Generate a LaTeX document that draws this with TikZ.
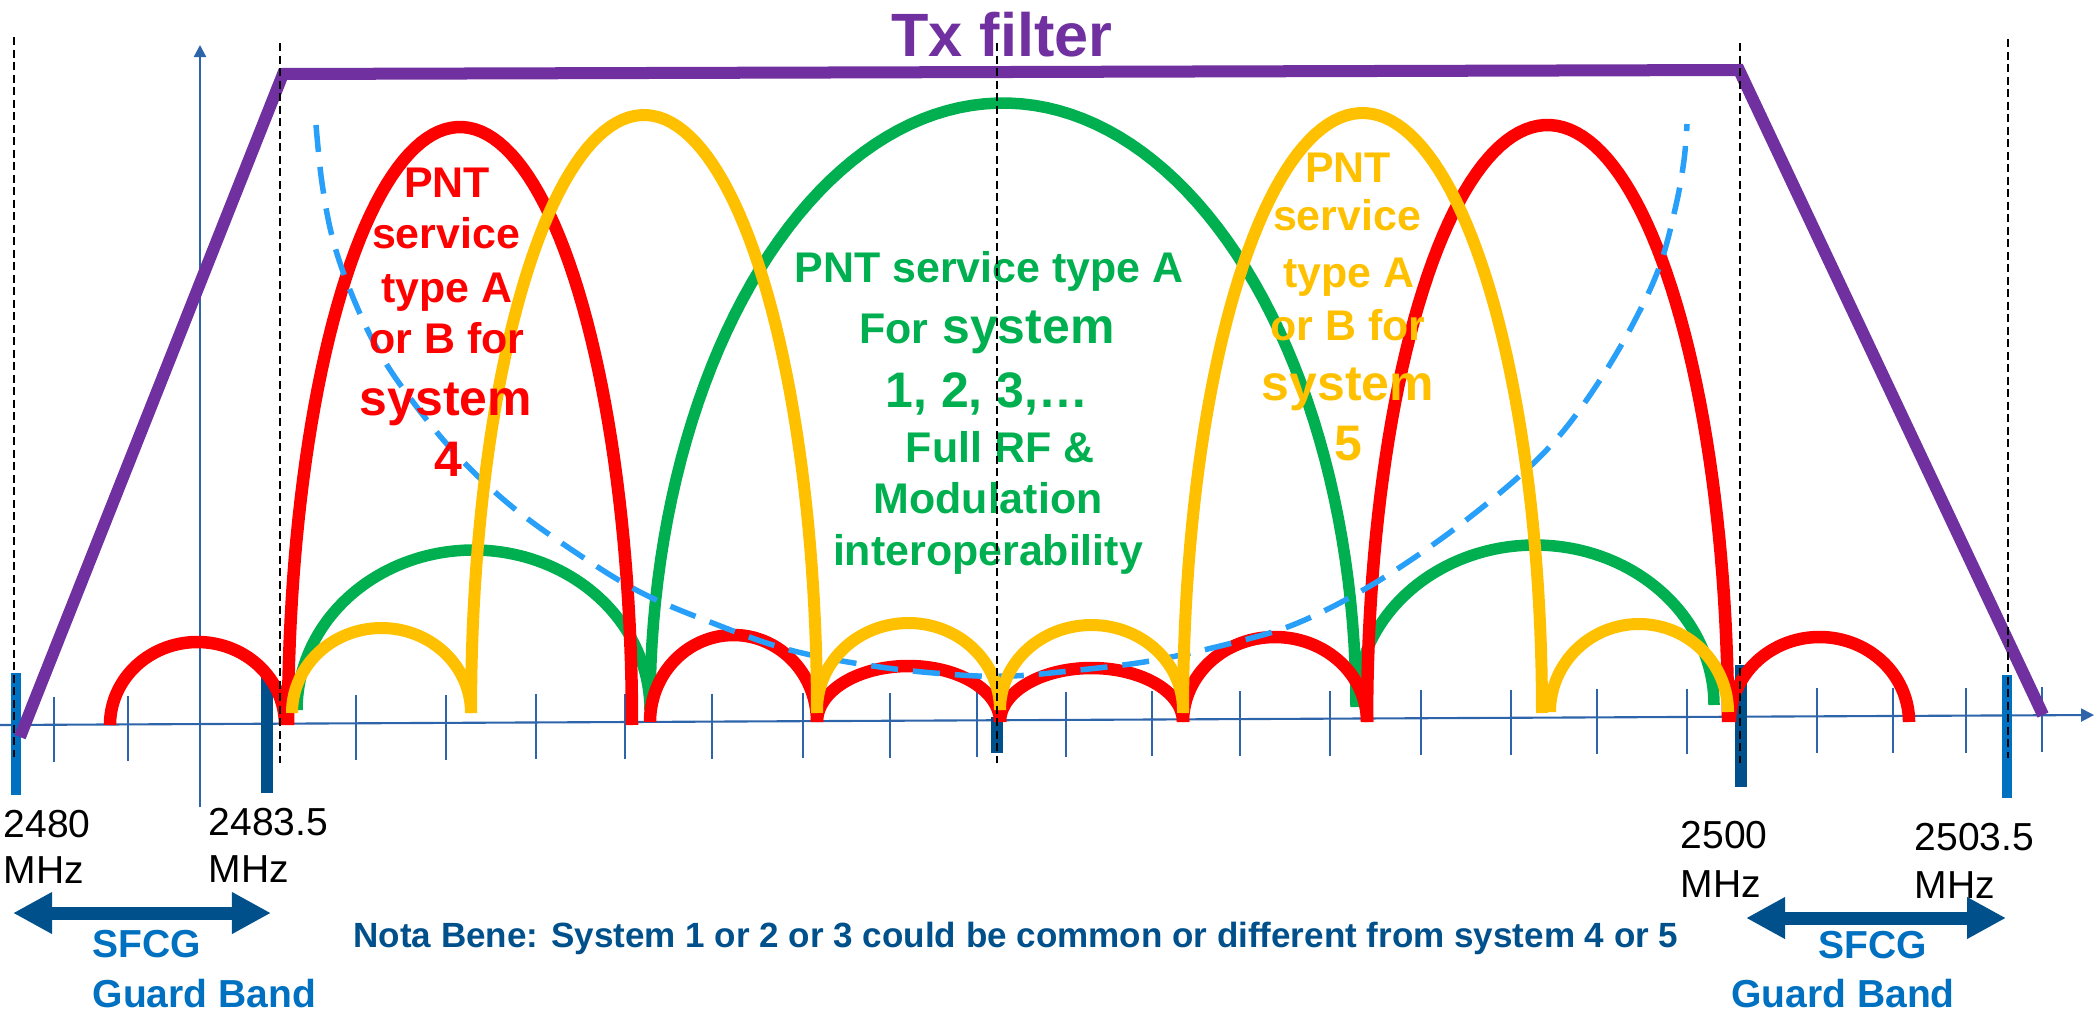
\documentclass[tikz,border=0pt]{standalone}
\usepackage{fontspec}
\setmainfont{Liberation Sans}
\usetikzlibrary{arrows.meta}

\definecolor{lobered}{HTML}{FF0000}
\definecolor{lobegold}{HTML}{FFC000}
\definecolor{lobegreen}{HTML}{00B050}
\definecolor{filterpurple}{HTML}{7030A0}
\definecolor{maskblue}{RGB}{40,160,250}
\definecolor{axisblue}{RGB}{45,100,170}
\definecolor{navy}{RGB}{0,80,140}
\definecolor{sfcgblue}{HTML}{0070C0}

% one spectral lobe: style, left foot x, right foot x, foot y, peak y (units: px)
\newcommand\spectrallobe[5]{%
  \draw[#1] plot[domain=180:0,samples=90]
    ({(#2+#3)/2+(#3-#2)/2*cos(\x)},{#4-(#4-#5)*sin(\x)});}

\begin{document}
\begin{tikzpicture}[x=0.01cm,y=-0.01cm,
  axisline/.style={axisblue,line width=0.6pt},
  tickline/.style={axisblue,line width=0.45pt},
  guide/.style={black,line width=0.45pt,dash pattern=on 0.08cm off 0.045cm},
  edgebar/.style={sfcgblue,line width=0.095cm},
  bandbar/.style={navy,line width=0.12cm},
  redlobe/.style={lobered,line width=0.125cm},
  goldlobe/.style={lobegold,line width=0.12cm},
  greenlobe/.style={lobegreen,line width=0.115cm},
  mask/.style={maskblue,line width=0.055cm,dash pattern=on 0.27cm off 0.15cm},
  filter/.style={filterpurple,line width=0.12cm,line join=miter},
  txt/.style={inner sep=0pt,anchor=base,font=\bfseries\fontsize{12.2}{14}\selectfont},
  bigtxt/.style={inner sep=0pt,anchor=base,font=\bfseries\fontsize{14.2}{16}\selectfont},
  freq/.style={inner sep=0pt,anchor=base west,font=\fontsize{11.1}{13}\selectfont},
  sfcg/.style={inner sep=0pt,anchor=base,text=sfcgblue,font=\bfseries\fontsize{11.1}{13}\selectfont},
  span/.style={navy,line width=0.13cm,{Triangle[length=0.39cm,width=0.39cm]}-{Triangle[length=0.39cm,width=0.39cm]}}
]
\useasboundingbox (0,0) rectangle (2095,1012);

% frequency axes
\coordinate (xstart) at (0,725);
\coordinate (xend) at (2094,715);
\coordinate (ystart) at (200,807);
\coordinate (yend) at (200,45);
\draw[axisline,-{Triangle[length=0.13cm,width=0.13cm]}] (xstart) -- (xend);
\draw[axisline,-{Triangle[length=0.12cm,width=0.12cm]}] (ystart) -- (yend);
\foreach \t in {54,128,356,446,536,625,712,803,890,977,1066,1152,1240,1330,1421,1511,1597,1687,1817,1893,1966,2042}
  \draw[tickline] (\t,{697-0.0048*\t}) -- (\t,{762-0.0048*\t});

% band edge markers
\draw[edgebar] (16,673) -- (16,795);
\draw[bandbar] (267,673) -- (267,793);
\draw[bandbar] (997,717) -- (997,753);
\draw[bandbar] (1741,665) -- (1741,787);
\draw[edgebar] (2007,675) -- (2007,798);

% green lobes
\spectrallobe{greenlobe}{297}{650}{710}{550}
\spectrallobe{greenlobe}{650}{1356}{707}{103}
\spectrallobe{greenlobe}{1356}{1714}{705}{545}

% red lobes
\spectrallobe{redlobe}{110}{285}{725}{642}
\spectrallobe{redlobe}{288}{632}{725}{127}
\spectrallobe{redlobe}{650}{817}{722}{635}
\spectrallobe{redlobe}{817}{1000}{722}{666}
\spectrallobe{redlobe}{1000}{1183}{722}{668}
\spectrallobe{redlobe}{1183}{1367}{722}{637}
\spectrallobe{redlobe}{1367}{1728}{722}{125}
\spectrallobe{redlobe}{1730}{1909}{722}{637}

% spectral mask
\draw[mask] plot[smooth,tension=0.6] coordinates {
  (316,125) (322,183) (333,240) (352,295) (378,350) (410,398) (455,453)
  (510,505) (575,552) (640,592) (710,622) (790,650) (880,667) (960,675)
  (1010,676) (1060,672) (1150,661) (1240,641) (1300,622) (1370,586)
  (1445,536) (1515,480) (1560,435) (1600,380) (1635,320) (1660,265)
  (1676,205) (1684,160) (1687,124)};

% gold lobes
\spectrallobe{goldlobe}{292}{471}{713}{628}
\spectrallobe{goldlobe}{471}{817}{713}{115}
\spectrallobe{goldlobe}{817}{1000}{710}{623}
\spectrallobe{goldlobe}{1000}{1183}{710}{625}
\spectrallobe{goldlobe}{1183}{1542}{713}{113}
\spectrallobe{goldlobe}{1550}{1728}{712}{624}

% transmit filter
\draw[filter] (20,737) -- (283,74) -- (1739,70) -- (2043,715);
\node[inner sep=0pt,anchor=base,text=filterpurple,font=\bfseries\fontsize{17.4}{20}\selectfont] (txfilter) at (1002,57) {Tx filter};

% red lobe caption
\node[txt,text=lobered] (r1) at (447,197) {PNT};
\node[txt,text=lobered] (r2) at (446,248) {service};
\node[txt,text=lobered] (r3) at (447,302) {type A};
\node[txt,text=lobered] (r4) at (447,353) {or B for};
\node[bigtxt,text=lobered] (r5) at (446,415) {system};
\node[bigtxt,text=lobered] (r6) at (448,476) {4};

% green lobe caption
\node[txt,text=lobegreen] (g1) at (989,282) {PNT service type A};
\node[bigtxt,text=lobegreen] (g2) at (987,343) {{\fontsize{12.2}{14}\selectfont For} system};
\node[bigtxt,text=lobegreen] (g3) at (987,407) {1, 2, 3,…};
\node[txt,text=lobegreen] (g4) at (1000,462) {Full RF \&};
\node[txt,text=lobegreen] (g5) at (988,513) {Modulation};
\node[txt,text=lobegreen] (g6) at (988,565) {interoperability};

% gold lobe caption
\node[txt,text=lobegold] (y1) at (1348,182) {PNT};
\node[txt,text=lobegold] (y2) at (1347,230) {service};
\node[txt,text=lobegold] (y3) at (1349,287) {type A};
\node[txt,text=lobegold] (y4) at (1348,340) {or B for};
\node[bigtxt,text=lobegold] (y5) at (1348,400) {system};
\node[bigtxt,text=lobegold] (y6) at (1348,460) {5};

% band edge frequencies
\node[freq] (f1a) at (3,837) {2480};
\node[freq] (f1b) at (3,883) {MHz};
\node[freq] (f2a) at (208,835) {2483.5};
\node[freq] (f2b) at (208,882) {MHz};
\node[freq] (f3a) at (1680,848) {2500};
\node[freq] (f3b) at (1680,897) {MHz};
\node[freq] (f4a) at (1914,850) {2503.5};
\node[freq] (f4b) at (1914,898) {MHz};

% guard bands
\coordinate (gl1) at (13,913);
\coordinate (gl2) at (271,913);
\coordinate (gr1) at (1746,918);
\coordinate (gr2) at (2006,918);
\draw[span] (gl1) -- (gl2);
\draw[span] (gr1) -- (gr2);
\node[sfcg,anchor=base west] (sl1) at (92,957) {SFCG};
\node[sfcg,anchor=base west] (sl2) at (92,1007) {Guard Band};
\node[sfcg] (sr1) at (1873,958) {SFCG};
\node[sfcg] (sr2) at (1843,1007) {Guard Band};

\node[inner sep=0pt,anchor=base,text=navy,font=\bfseries\fontsize{9.96}{12}\selectfont] (nb) at (1016,947)
  {Nota Bene: System 1 or 2 or 3 could be common or different from system 4 or 5};

% channel guides
\draw[guide] (14,37) -- (14,757);
\draw[guide] (280,43) -- (280,763);
\draw[guide] (997,43) -- (997,763);
\draw[guide] (1740,43) -- (1740,763);
\draw[guide] (2008,39) -- (2008,758);
\end{tikzpicture}
\end{document}
